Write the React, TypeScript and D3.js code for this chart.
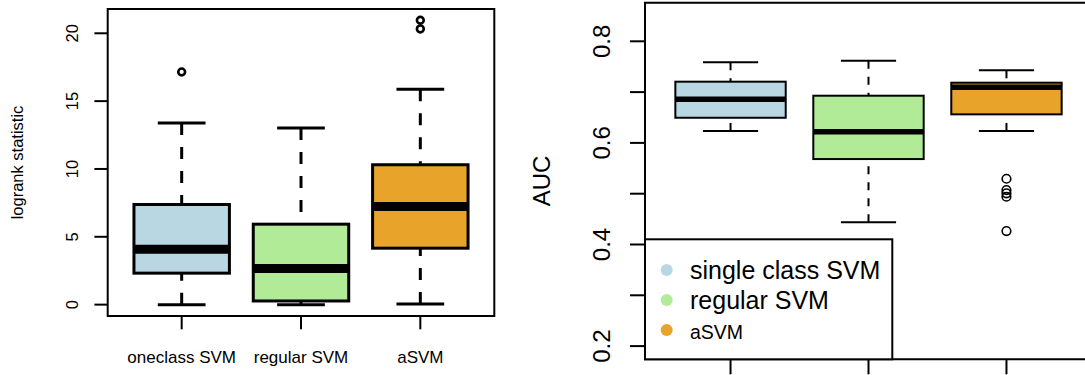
import * as d3 from 'd3'

// five-number summaries: [lower whisker, Q1, median, Q3, upper whisker]
const LEFT_GROUPS = ['oneclass SVM', 'regular SVM', 'aSVM']
const LEFT_STATS = [
  [0, 2.32, 4.09, 7.38, 13.39],
  [0, 0.27, 2.66, 5.93, 13.02],
  [0.05, 4.16, 7.23, 10.31, 15.87],
]
const LEFT_OUTLIERS = [[17.15], [], [20.32, 20.96]]
const LEFT_TICKS = [0, 5, 10, 15, 20]

const RIGHT_GROUPS = ['single class SVM', 'regular SVM', 'aSVM']
const RIGHT_STATS = [
  [0.6234, 0.6495, 0.6858, 0.7205, 0.7586],
  [0.4436, 0.5682, 0.622, 0.6929, 0.7618],
  [0.6234, 0.6562, 0.7094, 0.7185, 0.7429],
]
const RIGHT_OUTLIERS = [[], [], [0.5294, 0.5072, 0.5007, 0.494, 0.4264]]
const RIGHT_TICKS = [0.2, 0.3, 0.4, 0.5, 0.6, 0.7, 0.8]
const RIGHT_TICK_LABELS = ['0.2', '', '0.4', '', '0.6', '', '0.8']

const COLORS = ['#b9d6e3', '#b2eb97', '#e8a32b']

const FONT = '"Liberation Sans", Arial, Helvetica, sans-serif'

type PanelProps = {
  stats: number[][]
  outliers: number[][]
  ticks: number[]
  tickLabels: string[]
  x0: number
  x1: number
  y0: number
  y1: number
  yDomain: [number, number]
  lwd: number
  medianW: number
  pointR: number
  pointW: number
  tickLen: number
  tickFont: number
  tickLabelX: number
  title: string
  titleX: number
  titleFont: number
  xLabels?: string[]
  rightOpen?: boolean
}

function Panel(p: PanelProps) {
  const x = d3.scaleLinear().domain([0.38, 3.62]).range([p.x0, p.x1])
  const y = d3.scaleLinear().domain(p.yDomain).range([p.y1, p.y0])
  const unit = x(1) - x(0)
  const dash = `${p.lwd * 4},${p.lwd * 4}`
  const mid = (p.y0 + p.y1) / 2

  return (
    <g>
      {p.stats.map((s, i) => {
        const cx = x(i + 1)
        const bw = unit * 0.8
        const cw = unit * 0.4
        return (
          <g key={i}>
            {/* whiskers drawn from cap toward the box */}
            <line x1={cx} x2={cx} y1={y(s[0])} y2={y(s[1])} stroke="#000" strokeWidth={p.lwd} strokeDasharray={dash} />
            <line x1={cx} x2={cx} y1={y(s[4])} y2={y(s[3])} stroke="#000" strokeWidth={p.lwd} strokeDasharray={dash} />
            <line x1={cx - cw / 2} x2={cx + cw / 2} y1={y(s[0])} y2={y(s[0])} stroke="#000" strokeWidth={p.lwd} />
            <line x1={cx - cw / 2} x2={cx + cw / 2} y1={y(s[4])} y2={y(s[4])} stroke="#000" strokeWidth={p.lwd} />
            <rect x={cx - bw / 2} y={y(s[3])} width={bw} height={y(s[1]) - y(s[3])} fill={COLORS[i]} stroke="#000" strokeWidth={p.lwd} />
            <line x1={cx - bw / 2} x2={cx + bw / 2} y1={y(s[2])} y2={y(s[2])} stroke="#000" strokeWidth={p.medianW} />
            {p.outliers[i].map((o, j) => (
              <circle key={j} cx={cx} cy={y(o)} r={p.pointR} fill="none" stroke="#000" strokeWidth={p.pointW} />
            ))}
          </g>
        )
      })}

      {/* frame */}
      {p.rightOpen ? (
        <path d={`M${p.x1},${p.y0}H${p.x0}V${p.y1}H${p.x1}`} fill="none" stroke="#000" strokeWidth={2} />
      ) : (
        <rect x={p.x0} y={p.y0} width={p.x1 - p.x0} height={p.y1 - p.y0} fill="none" stroke="#000" strokeWidth={2} />
      )}

      {/* y axis */}
      {p.ticks.map((t, i) => (
        <g key={t}>
          <line x1={p.x0 - p.tickLen} x2={p.x0} y1={y(t)} y2={y(t)} stroke="#000" strokeWidth={2} />
          {p.tickLabels[i] && (
            <text
              transform={`translate(${p.tickLabelX},${y(t)}) rotate(-90)`}
              textAnchor="middle"
              fontSize={p.tickFont}
              fontFamily={FONT}
            >
              {p.tickLabels[i]}
            </text>
          )}
        </g>
      ))}
      <text
        transform={`translate(${p.titleX},${mid}) rotate(-90)`}
        textAnchor="middle"
        fontSize={p.titleFont}
        fontFamily={FONT}
      >
        {p.title}
      </text>

      {/* x axis */}
      {p.stats.map((_, i) => (
        <line key={i} x1={x(i + 1)} x2={x(i + 1)} y1={p.y1} y2={p.y1 + p.tickLen} stroke="#000" strokeWidth={2} />
      ))}
      {p.xLabels &&
        p.xLabels.map((l, i) => (
          <text key={l} x={x(i + 1)} y={363} textAnchor="middle" fontSize={17} fontFamily={FONT}>
            {l}
          </text>
        ))}
    </g>
  )
}

export default function App() {
  const legendY = [270, 300, 330]
  const legendFont = [25, 25, 19.5]
  return (
    <svg
      width={1085}
      height={375}
      style={{ position: 'absolute', left: 0, top: 0, background: '#fff' }}
    >
      <Panel
        stats={LEFT_STATS}
        outliers={LEFT_OUTLIERS}
        ticks={LEFT_TICKS}
        tickLabels={LEFT_TICKS.map(String)}
        x0={107.7}
        x1={494.3}
        y0={9}
        y1={316}
        yDomain={[-0.838, 21.79]}
        lwd={3}
        medianW={9}
        pointR={3.4}
        pointW={2.6}
        tickLen={13.3}
        tickFont={16.5}
        tickLabelX={77.5}
        title="logrank statistic"
        titleX={22.5}
        titleFont={16.5}
        xLabels={LEFT_GROUPS}
      />
      <Panel
        stats={RIGHT_STATS}
        outliers={RIGHT_OUTLIERS}
        ticks={RIGHT_TICKS}
        tickLabels={RIGHT_TICK_LABELS}
        x0={645}
        x1={1092}
        y0={2.7}
        y1={359.3}
        yDomain={[0.174, 0.876]}
        lwd={2}
        medianW={5.5}
        pointR={4.3}
        pointW={1.6}
        tickLen={15}
        tickFont={24}
        tickLabelX={610}
        title="AUC"
        titleX={550}
        titleFont={24}
        rightOpen
      />

      {/* legend */}
      <rect x={645} y={239.3} width={247.3} height={120} fill="#fff" stroke="#000" strokeWidth={2} />
      {RIGHT_GROUPS.map((g, i) => (
        <g key={g}>
          <circle cx={666.7} cy={legendY[i]} r={6} fill={COLORS[i]} />
          <text x={690} y={legendY[i] + 8.5} fontSize={legendFont[i]} fontFamily={FONT}>
            {g}
          </text>
        </g>
      ))}
    </svg>
  )
}
